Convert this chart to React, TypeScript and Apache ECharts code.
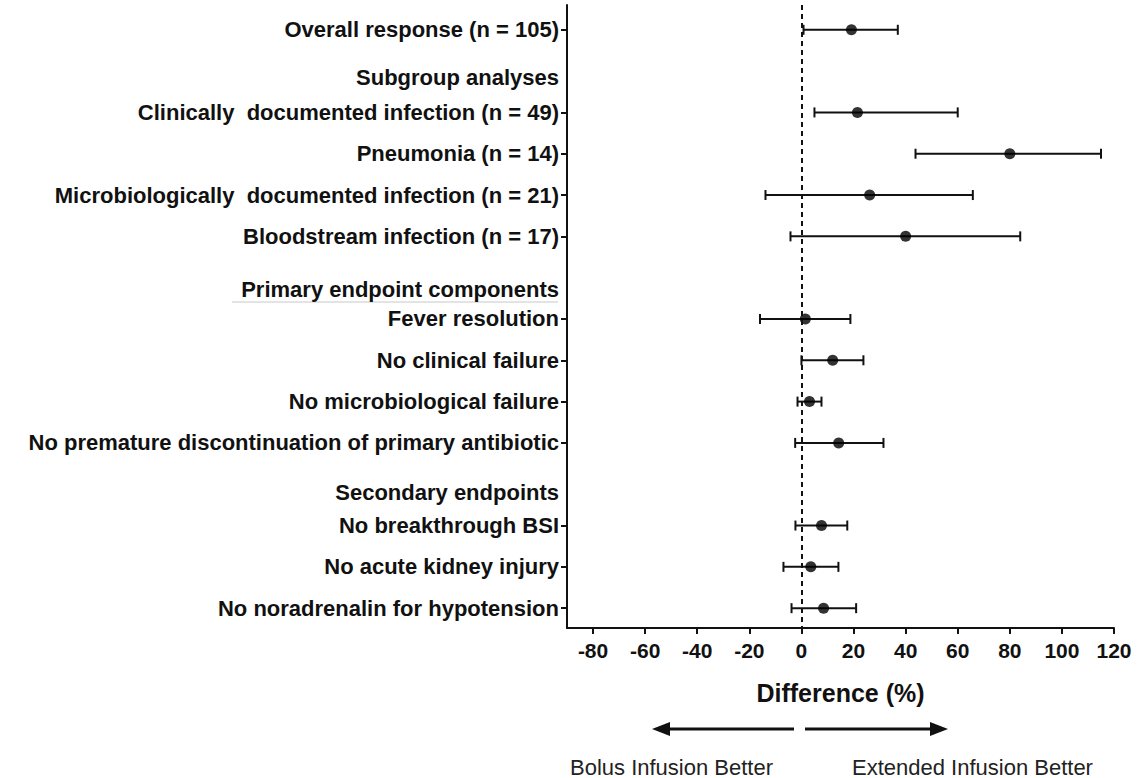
import React, { useEffect, useRef } from "react";
import * as echarts from "echarts";

const rowLabels = [
  "Overall response (n = 105)",
  "Clinically  documented infection (n = 49)",
  "Pneumonia (n = 14)",
  "Microbiologically  documented infection (n = 21)",
  "Bloodstream infection (n = 17)",
  "Fever resolution",
  "No clinical failure",
  "No microbiological failure",
  "No premature discontinuation of primary antibiotic",
  "No breakthrough BSI",
  "No acute kidney injury",
  "No noradrenalin for hypotension",
];
const rowPos = [0, 2, 3, 4, 5, 7, 8, 9, 10, 12, 13, 14];
const estimates = [19.2, 21.5, 80, 26.2, 40, 1.5, 12, 3.1, 14.3, 7.7, 3.6, 8.5];
const lowerCI = [0.8, 5, 43.8, -13.8, -4.2, -15.9, 0, -1.5, -2.4, -2.3, -6.9, -3.8];
const upperCI = [37, 60, 115, 65.8, 84, 18.8, 23.8, 7.7, 31.5, 17.6, 14.2, 21];

const headerLabels = ["Subgroup analyses", "Primary endpoint components", "Secondary endpoints"];
const headerPos = [1.16, 6.28, 11.2];

const xTicks = [-80, -60, -40, -20, 0, 20, 40, 60, 80, 100, 120];

const FONT = "'Liberation Sans', Arial, Helvetica, sans-serif";

export default function App() {
  const ref = useRef<HTMLDivElement>(null);
  useEffect(() => {
    if (!ref.current) return;
    const chart = echarts.init(ref.current, null, { renderer: "svg" });
    const labelMap: Record<string, string> = {};
    rowPos.forEach((p, i) => (labelMap[String(Math.round(p * 100))] = rowLabels[i]));
    headerPos.forEach((p, i) => (labelMap[String(Math.round(p * 100))] = headerLabels[i]));
    const barData = rowPos.map((p, i) => [lowerCI[i], upperCI[i], p]);
    const pointData = rowPos.map((p, i) => [estimates[i], p]);

    const option: any = {
      animation: false,
      backgroundColor: "#ffffff",
      grid: { left: 567, right: 24, top: 5, bottom: 150 },
      xAxis: {
        type: "value",
        min: -90,
        max: 120,
        name: "Difference (%)",
        nameLocation: "middle",
        nameGap: 52,
        nameTextStyle: { fontFamily: FONT, fontWeight: "bold", fontSize: 25, color: "#111" },
        axisLine: { show: true, onZero: false, lineStyle: { color: "#111", width: 2 } },
        axisTick: { show: true, customValues: xTicks, length: 6, lineStyle: { color: "#111", width: 2 } },
        axisLabel: {
          customValues: xTicks,
          margin: 12,
          fontFamily: FONT,
          fontWeight: "bold",
          fontSize: 21,
          color: "#111",
        },
        splitLine: { show: false },
      },
      yAxis: {
        type: "value",
        inverse: true,
        min: -0.6,
        max: 14.48,
        axisLine: { show: true, onZero: false, lineStyle: { color: "#111", width: 2 } },
        axisTick: { show: true, customValues: rowPos, length: 6, lineStyle: { color: "#111", width: 2 } },
        axisLabel: {
          customValues: [...rowPos, ...headerPos],
          margin: 8,
          fontFamily: FONT,
          fontWeight: "bold",
          fontSize: 22,
          color: "#111",
          formatter: (v: number) => labelMap[String(Math.round(v * 100))] || "",
        },
        splitLine: { show: false },
      },
      graphic: [
        { type: "line", shape: { x1: 232, y1: 302, x2: 558, y2: 302 }, style: { stroke: "#c8c8c8", lineWidth: 1 } },
        { type: "line", shape: { x1: 794, y1: 729, x2: 668, y2: 729 }, style: { stroke: "#111", lineWidth: 3 } },
        { type: "polygon", shape: { points: [[652, 729], [670, 722], [670, 736]] }, style: { fill: "#111" } },
        { type: "line", shape: { x1: 805, y1: 729, x2: 932, y2: 729 }, style: { stroke: "#111", lineWidth: 3 } },
        { type: "polygon", shape: { points: [[948, 729], [930, 722], [930, 736]] }, style: { fill: "#111" } },
        {
          type: "text",
          x: 570,
          y: 767,
          style: { text: "Bolus Infusion Better", font: `22px ${FONT}`, fill: "#222", textVerticalAlign: "middle" },
        },
        {
          type: "text",
          x: 852,
          y: 767,
          style: { text: "Extended Infusion Better", font: `22px ${FONT}`, fill: "#222", textVerticalAlign: "middle" },
        },
      ],
      series: [
        {
          type: "custom",
          data: barData,
          encode: { x: [0, 1], y: 2 },
          renderItem: (params: any, api: any) => {
            const lo = api.coord([api.value(0), api.value(2)]);
            const hi = api.coord([api.value(1), api.value(2)]);
            const h = 5;
            const st = { stroke: "#111", lineWidth: 2 };
            return {
              type: "group",
              children: [
                { type: "line", shape: { x1: lo[0], y1: lo[1], x2: hi[0], y2: hi[1] }, style: st },
                { type: "line", shape: { x1: lo[0], y1: lo[1] - h, x2: lo[0], y2: lo[1] + h }, style: st },
                { type: "line", shape: { x1: hi[0], y1: hi[1] - h, x2: hi[0], y2: hi[1] + h }, style: st },
              ],
            };
          },
          z: 2,
        },
        {
          type: "scatter",
          data: pointData,
          symbol: "circle",
          symbolSize: 11,
          itemStyle: { color: "#000" },
          z: 3,
          markLine: {
            silent: true,
            symbol: ["none", "none"],
            label: { show: false },
            lineStyle: { color: "#111", width: 2, type: [5, 4] },
            data: [{ xAxis: 0 }],
          },
        },
      ],
    };
    chart.setOption(option);
    return () => chart.dispose();
  }, []);
  return (
    <div
      ref={ref}
      style={{ position: "fixed", left: 0, top: 0, width: 1138, height: 778, background: "#fff" }}
    />
  );
}
